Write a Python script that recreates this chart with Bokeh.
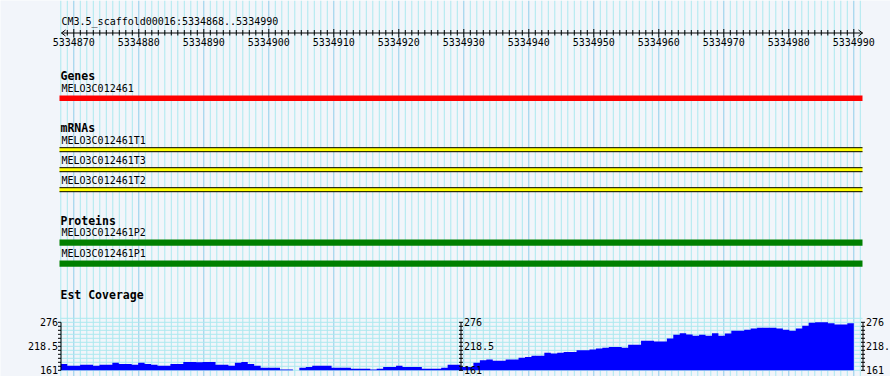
import numpy as np
from bokeh.plotting import figure
from bokeh.models import Range1d
from bokeh.core.properties import value
from bokeh.embed import file_html
from bokeh.resources import INLINE

# ---------------- data ----------------
ref_name = "CM3.5_scaffold00016"
view_start = 5334868
view_end = 5334990
major_step = 10

gene_track = "Genes"
gene_names = ["MELO3C012461"]
mrna_track = "mRNAs"
mrna_names = ["MELO3C012461T1", "MELO3C012461T3", "MELO3C012461T2"]
protein_track = "Proteins"
protein_names = ["MELO3C012461P2", "MELO3C012461P1"]
cov_track = "Est Coverage"
cov_min = 161
cov_max = 276
cov_tick_labels = ["276", "218.5", "161"]
coverage = [176, 172, 172, 174, 174, 172, 174, 174, 179, 176, 176, 174, 179, 176, 174, 172,
            172, 176, 176, 181, 181, 180, 181, 181, 174, 174, 172, 179, 181, 176, 172, 167,
            167, 167, 163, 163, 161, 167, 169, 172, 172, 172, 167, 167, 167, 165, 165, 165,
            163, 165, 169, 169, 172, 169, 169, 169, 165, 165, 165, 167, 174, 174, 169, 169,
            179, 185, 187, 184, 184, 187, 187, 191, 193, 196, 196, 203, 201, 203, 205, 205,
            209, 209, 211, 213, 215, 217, 217, 215, 222, 222, 232, 232, 230, 230, 237, 246,
            250, 247, 244, 246, 244, 250, 244, 249, 256, 256, 258, 261, 263, 263, 263, 261,
            258, 256, 261, 268, 275, 276, 276, 274, 271, 271, 274]

# ---------------- layout ----------------
W, H = 890, 376
PX_PER_BP = 6.5
START_PX = 60.3                       # pixel of view_start
x0 = view_start - START_PX / PX_PER_BP
x1 = x0 + W / PX_PER_BP
TXT_DY = -4                           # baseline correction for text


def px(p):
    return x0 + p / PX_PER_BP


BG = "#F2F5FA"
MINOR = "#ACE9EF"
MAJOR = "#8FCDEA"
MONO = value("DejaVu Sans Mono")

# coverage scale: 161 -> y 369.8 px, 276 -> y 321.8 px
cov_bot_px, cov_top_px = 369.8, 321.8
upp = (cov_max - cov_min) / (cov_bot_px - cov_top_px)
cov_range = Range1d(cov_min - (H - cov_bot_px) * upp, cov_min + cov_bot_px * upp)

p = figure(width=W, height=H, x_range=Range1d(x0, x1), y_range=Range1d(H, 0),
           x_axis_type=None, y_axis_type=None, toolbar_location=None,
           output_backend="svg", min_border=0)
p.extra_y_ranges = {"cov": cov_range}
p.background_fill_color = BG
p.border_fill_color = BG
p.outline_line_color = None

panel_l, panel_r = px(59), px(862)

# vertical grid
grid_pos = np.arange(view_start, view_end + 2)
minor = [b for b in grid_pos if b % major_step]
major = [b for b in grid_pos if b % major_step == 0]
p.segment(x0=minor, x1=minor, y0=0, y1=H, line_color=MINOR, line_width=1)
p.segment(x0=major, x1=major, y0=0, y1=H, line_color=MAJOR, line_width=1)

# ---------------- ruler ----------------
p.text(x=[px(61)], y=[25 + TXT_DY], text=[f"{ref_name}:{view_start}..{view_end}"],
       text_font=MONO, text_font_size=value("10px"), text_align="left",
       text_baseline="alphabetic", text_color="black")
ry = 32.5
p.segment(x0=[px(61)], x1=[px(862)], y0=[ry], y1=[ry], line_color="black", line_width=1)
p.segment(x0=[px(61), px(61), px(862), px(862)],
          x1=[px(65), px(65), px(858), px(858)],
          y0=[ry, ry, ry, ry], y1=[ry - 3, ry + 3, ry - 3, ry + 3],
          line_color="black", line_width=1)
ticks = np.arange(view_start + 1, view_end + 1)
t_minor = [b for b in ticks if b % major_step]
t_major = [b for b in ticks if b % major_step == 0]
p.segment(x0=t_minor, x1=t_minor, y0=29.5, y1=35, line_color="black", line_width=1)
p.segment(x0=t_major, x1=t_major, y0=28.5, y1=37, line_color="black", line_width=1)
p.text(x=t_major, y=45.5 + TXT_DY, text=[str(b) for b in t_major], text_font=MONO,
       text_font_size=value("10px"), text_align="center", text_baseline="alphabetic",
       text_color="black")


def track_title(label, y):
    p.text(x=[px(60)], y=[y + TXT_DY], text=[label], text_font=MONO,
           text_font_size=value("11.5px"), text_font_style="bold",
           text_align="left", text_baseline="alphabetic", text_color="black")


def feat_label(label, y):
    p.text(x=[px(61)], y=[y + TXT_DY], text=[label], text_font=MONO,
           text_font_size=value("10px"), text_align="left",
           text_baseline="alphabetic", text_color="black")


# ---------------- Genes ----------------
track_title(gene_track, 79.5)
for i, name in enumerate(gene_names):
    feat_label(name, 92)
    p.quad(left=[panel_l], right=[panel_r], top=[95], bottom=[100.5],
           fill_color="#FF0000", line_color=None)

# ---------------- mRNAs ----------------
track_title(mrna_track, 131.5)
for i, name in enumerate(mrna_names):
    base = 144 + 20 * i
    feat_label(name, base)
    p.quad(left=[panel_l], right=[panel_r], top=[base + 3], bottom=[base + 7.5],
           fill_color="#FFFF00", line_color=None)
    p.segment(x0=[panel_l, panel_l], x1=[panel_r, panel_r],
              y0=[base + 3.2, base + 7.2], y1=[base + 3.2, base + 7.2],
              line_color="black", line_width=1)

# ---------------- Proteins ----------------
track_title(protein_track, 224)
for i, name in enumerate(protein_names):
    base = 235.5 + 21 * i
    feat_label(name, base)
    p.quad(left=[panel_l], right=[panel_r], top=[base + 3.5], bottom=[base + 9.8],
           fill_color="#008000", line_color=None)

# ---------------- Est Coverage ----------------
track_title(cov_track, 298.3)
n_int = 12
step = (cov_max - cov_min) / n_int
hl = [cov_min + k * step for k in range(n_int + 2)]
p.segment(x0=px(60), x1=px(862), y0=hl, y1=hl, line_color=MINOR, line_width=1,
          y_range_name="cov")

# coverage drawn as one solid step-shaped area (no seams between bins)
edges = np.linspace(view_start, view_end, len(coverage) + 1)
cov_arr = np.asarray(coverage, dtype=float)
sx = np.concatenate([[edges[0]], np.repeat(edges[1:-1], 2), [edges[-1]]])
sy = np.repeat(cov_arr, 2)
area_x = np.concatenate([[edges[0]], sx, [edges[-1]]])
area_y = np.concatenate([[cov_min], sy, [cov_min]])
p.patch(x=area_x, y=area_y, fill_color="#0000FF", line_color=None,
        y_range_name="cov")

tk = [cov_min + k * step for k in range(n_int + 1)]
lab_vals = [cov_max, (cov_max + cov_min) / 2, cov_min]
for ax_px, side in [(60.5, "left"), (460.5, "right"), (862.5, "right")]:
    ax_x = px(ax_px)
    p.segment(x0=[ax_x], x1=[ax_x], y0=[cov_min], y1=[cov_max], line_color="black",
              line_width=1, y_range_name="cov")
    if side == "left":
        p.segment(x0=px(ax_px - 3), x1=ax_x, y0=tk, y1=tk, line_color="black",
                  line_width=1, y_range_name="cov")
        p.text(x=px(57.5), y=lab_vals, text=cov_tick_labels, text_font=MONO,
               text_font_size=value("10px"), text_align="right",
               text_baseline="middle", text_color="black", y_range_name="cov")
    else:
        p.segment(x0=px(ax_px - 2), x1=px(ax_px + 2), y0=tk, y1=tk, line_color="black",
                  line_width=1, y_range_name="cov")
        p.text(x=px(ax_px + 3), y=lab_vals, text=cov_tick_labels, text_font=MONO,
               text_font_size=value("10px"), text_align="left",
               text_baseline="middle", text_color="black", y_range_name="cov")

open("out.html", "w").write(file_html(p, INLINE))
